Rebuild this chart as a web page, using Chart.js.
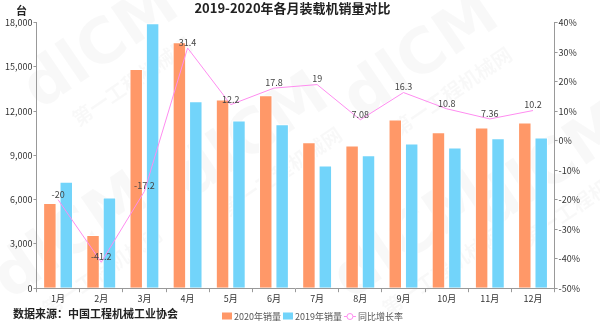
<!DOCTYPE html>
<html>
<head>
<meta charset="utf-8">
<script src="https://cdn.jsdelivr.net/npm/chart.js@4/dist/chart.umd.min.js"></script>
<style>
    html, body { margin: 0; padding: 0; background: #fff; }
    #wrap { width: 600px; height: 322px; position: relative; }
</style>
</head>
<body>
<div id="wrap"><canvas id="salesChart"></canvas></div>
<script>
// monthly loader sales, 2020 vs 2019, and year-on-year growth (%)
const months = ['1月', '2月', '3月', '4月', '5月', '6月', '7月', '8月', '9月', '10月', '11月', '12月'];
const sales2020 = [5770, 3600, 14850, 16660, 12790, 13080, 9890, 9670, 11430, 10570, 10890, 11230];
const sales2019 = [7220, 6150, 17950, 12670, 11360, 11110, 8310, 9010, 9800, 9530, 10160, 10210];
const growth = [-20, -41.2, -17.2, 31.4, 12.2, 17.8, 19, 7.08, 16.3, 10.8, 7.36, 10.2];

const ORANGE = '#ff9868';
const BLUE = '#72d4fa';
const PINK = '#ff8cf0';
const FONT = '"Noto Sans CJK SC", "Noto Sans", sans-serif';

// faint site watermark behind the chart
const watermark = {
    id: 'watermark',
    beforeDraw(chart) {
        const ctx = chart.ctx;
        const spots = [[110, 60], [260, 150], [430, 70], [80, 250], [420, 250], [560, 180]];
        ctx.save();
        ctx.fillStyle = 'rgba(0,0,0,0.028)';
        ctx.textAlign = 'center';
        ctx.textBaseline = 'middle';
        spots.forEach(([x, y]) => {
            ctx.save();
            ctx.translate(x, y);
            ctx.rotate(-0.6);
            ctx.font = 'bold 62px "DejaVu Sans", sans-serif';
            ctx.fillText('dlCM', 0, -14);
            ctx.font = 'bold 20px ' + FONT;
            ctx.fillText('第一工程机械网', 6, 30);
            ctx.restore();
        });
        ctx.restore();
    }
};

// value labels above the growth line, legend row, unit and source notes
const notes = {
    id: 'notes',
    afterDatasetsDraw(chart) {
        const ctx = chart.ctx;
        const meta = chart.getDatasetMeta(2);
        ctx.save();
        ctx.font = '9px ' + FONT;
        ctx.fillStyle = '#444';
        ctx.textAlign = 'center';
        ctx.textBaseline = 'bottom';
        meta.data.forEach((pt, i) => {
            ctx.fillText(String(growth[i]), pt.x, pt.y - 1);
        });
        ctx.restore();
    },
    afterDraw(chart) {
        const ctx = chart.ctx;
        ctx.save();
        ctx.fillStyle = '#222';
        ctx.textBaseline = 'middle';
        ctx.textAlign = 'left';
        ctx.font = 'bold 11px ' + FONT;
        ctx.fillText('台', 16, 11);
        ctx.fillText('数据来源：中国工程机械工业协会', 13, 314);

        // legend
        const ly = 316;
        let x = 222;
        ctx.font = '9px ' + FONT;
        chart.data.datasets.forEach(ds => {
            if (ds.type === 'bar') {
                ctx.fillStyle = ds.backgroundColor;
                ctx.fillRect(x, ly - 3.5, 10, 7);
                x += 12;
            } else {
                ctx.strokeStyle = ds.borderColor;
                ctx.lineWidth = 1;
                ctx.beginPath();
                ctx.moveTo(x, ly + 0.5); ctx.lineTo(x + 3, ly + 0.5);
                ctx.moveTo(x + 9, ly + 0.5); ctx.lineTo(x + 12, ly + 0.5);
                ctx.stroke();
                ctx.beginPath();
                ctx.arc(x + 6, ly + 0.5, 3, 0, Math.PI * 2);
                ctx.stroke();
                x += 14;
            }
            ctx.fillStyle = '#555';
            ctx.fillText(ds.label, x, ly + 0.5);
            x += ctx.measureText(ds.label).width + 2;
        });
        ctx.restore();
    }
};

const ctx = document.getElementById('salesChart').getContext('2d');
new Chart(ctx, {
    data: {
        labels: months,
        datasets: [
            {
                type: 'bar',
                label: '2020年销量',
                data: sales2020,
                backgroundColor: ORANGE,
                borderColor: '#fff',
                borderWidth: 1,
                categoryPercentage: 0.76,
                barPercentage: 0.82,
                yAxisID: 'y',
                order: 1
            },
            {
                type: 'bar',
                label: '2019年销量',
                data: sales2019,
                backgroundColor: BLUE,
                borderColor: '#fff',
                borderWidth: 1,
                categoryPercentage: 0.76,
                barPercentage: 0.82,
                yAxisID: 'y',
                order: 1
            },
            {
                type: 'line',
                label: '同比增长率',
                data: growth,
                borderColor: PINK,
                borderWidth: 1,
                pointRadius: 0,
                tension: 0,
                yAxisID: 'y1',
                order: 0
            }
        ]
    },
    options: {
        responsive: true,
        maintainAspectRatio: false,
        animation: false,
        layout: { padding: { left: 4, right: 19, top: 0, bottom: 17 } },
        plugins: {
            tooltip: { enabled: false },
            legend: { display: false },
            title: {
                display: true,
                text: '2019-2020年各月装载机销量对比',
                color: '#222',
                font: { family: FONT, size: 13, weight: 'bold' },
                padding: { top: 0, bottom: 7 }
            }
        },
        scales: {
            x: {
                grid: { display: true, drawOnChartArea: false, tickLength: 4, color: '#999', offset: true },
                border: { color: '#999' },
                ticks: { color: '#333', font: { family: FONT, size: 9 }, padding: 1 }
            },
            y: {
                position: 'left',
                min: 0,
                max: 18000,
                ticks: {
                    stepSize: 3000,
                    color: '#333',
                    font: { family: FONT, size: 9 },
                    padding: 1,
                    callback: v => v.toLocaleString('en-US')
                },
                grid: { display: true, drawOnChartArea: false, tickLength: 3, color: '#999' },
                border: { color: '#999' }
            },
            y1: {
                position: 'right',
                min: -50,
                max: 40,
                ticks: {
                    stepSize: 10,
                    color: '#333',
                    font: { family: FONT, size: 9 },
                    padding: 1,
                    callback: v => v + '%'
                },
                grid: { display: true, drawOnChartArea: false, tickLength: 3, color: '#999' },
                border: { color: '#999' }
            }
        }
    },
    plugins: [watermark, notes]
});
</script>
</body>
</html>
